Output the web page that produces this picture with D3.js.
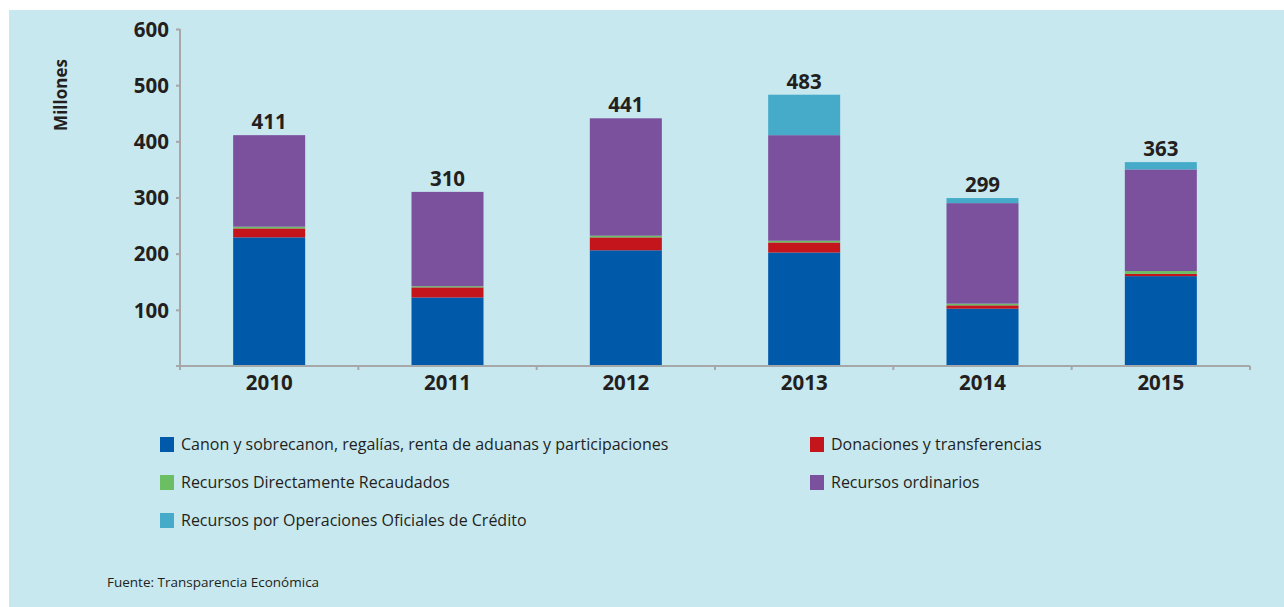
<!DOCTYPE html>
<html>
<head>
<meta charset="utf-8">
<script src="https://cdn.jsdelivr.net/npm/d3@7"></script>
<style>
  body { margin: 0; background: #ffffff; }
  svg { display: block; }
</style>
</head>
<body>
<div id="chart"></div>
<script>

// data (millones)
var years = ['2010', '2011', '2012', '2013', '2014', '2015']
var canon = [229, 122, 206, 202, 102, 160]
var donaciones = [16, 18, 23, 18, 6, 4]
var directos = [3, 2, 3, 3, 3, 5]
var ordinarios = [163, 168, 209, 188, 179, 181]
var credito = [0, 0, 0, 72, 9, 13]
var totals = [411, 310, 441, 483, 299, 363]
var yTicks = [100, 200, 300, 400, 500, 600]

var seriesNames = [
    'Canon y sobrecanon, regalías, renta de aduanas y participaciones',
    'Donaciones y transferencias',
    'Recursos Directamente Recaudados',
    'Recursos ordinarios',
    'Recursos por Operaciones Oficiales de Crédito'
]
var seriesColors = ['#0059a9', '#c4141c', '#6bbf62', '#7b519d', '#45abc9']
var seriesValues = [canon, donaciones, directos, ordinarios, credito]

var width = 1284, height = 607
// note: can't call these top/left at global scope (window.top is read-only)
var plotLeft = 180, plotRight = 1250, plotTop = 29, plotBottom = 366

var svg = d3.select('#chart')
    .append('svg')
        .attr('width', width)
        .attr('height', height)

// panel background
svg.append('rect')
    .attr('x', 9)
    .attr('y', 10)
    .attr('width', width - 9)
    .attr('height', height - 10)
    .style('fill', '#c8e8ef')

var x = d3.scaleBand()
    .domain(years)
    .range([plotLeft, plotRight])

var y = d3.scaleLinear()
    .domain([0, 600])
    .range([plotBottom, plotTop])

var barWidth = 72

// build rows for d3.stack
var rows = years.map(function(yr, i) {
    var row = {year: yr}
    seriesNames.forEach(function(name, s) { row[name] = seriesValues[s][i] })
    return row
})
var stacked = d3.stack().keys(seriesNames)(rows)

svg.selectAll('g.layer')
    .data(stacked)
    .enter()
    .append('g')
        .attr('class', 'layer')
        .style('fill', function(d, i) { return seriesColors[i] })
    .selectAll('rect')
    .data(function(d) { return d })
    .enter()
    .append('rect')
        .attr('x', function(d) { return x(d.data.year) + x.bandwidth() / 2 - barWidth / 2 })
        .attr('width', barWidth)
        .attr('y', function(d) { return y(d[1]) })
        .attr('height', function(d) { return y(d[0]) - y(d[1]) })

// axes
var axisColor = '#a5a7a9'

var yAxis = svg.append('g')
    .attr('transform', 'translate(' + plotLeft + ',0)')
    .call(d3.axisLeft(y).tickValues(yTicks).tickSize(4).tickFormat(d3.format('d')))
yAxis.select('.domain').remove()
yAxis.selectAll('.tick line').style('stroke', axisColor).style('stroke-width', 2)
yAxis.selectAll('.tick text')
    .attr('x', -11)
    .attr('dy', '0.35em')
    .style('font-family', '"Open Sans", sans-serif')
    .style('font-weight', 'bold')
    .style('font-size', '20.5px')
    .style('fill', '#231f20')

svg.append('line')
    .attr('x1', plotLeft).attr('x2', plotLeft)
    .attr('y1', plotTop).attr('y2', plotBottom + 4)
    .style('stroke', axisColor).style('stroke-width', 2)

svg.append('line')
    .attr('x1', plotLeft - 4).attr('x2', plotRight)
    .attr('y1', plotBottom).attr('y2', plotBottom)
    .style('stroke', axisColor).style('stroke-width', 2)

// category separators on x axis
svg.selectAll('line.xtick')
    .data(years)
    .enter()
    .append('line')
        .attr('class', 'xtick')
        .attr('x1', function(d) { return x(d) + x.step() })
        .attr('x2', function(d) { return x(d) + x.step() })
        .attr('y1', plotBottom)
        .attr('y2', plotBottom + 4)
        .style('stroke', axisColor).style('stroke-width', 2)

svg.selectAll('text.year')
    .data(years)
    .enter()
    .append('text')
        .attr('class', 'year')
        .attr('x', function(d) { return x(d) + x.bandwidth() / 2 })
        .attr('y', plotBottom + 24)
        .attr('text-anchor', 'middle')
        .style('font-family', '"Open Sans", sans-serif')
        .style('font-weight', 'bold')
        .style('font-size', '20.5px')
        .style('fill', '#231f20')
        .text(function(d) { return d })

// totals above bars
svg.selectAll('text.total')
    .data(totals)
    .enter()
    .append('text')
        .attr('class', 'total')
        .attr('x', function(d, i) { return x(years[i]) + x.bandwidth() / 2 })
        .attr('y', function(d) { return y(d) - 6 })
        .attr('text-anchor', 'middle')
        .style('font-family', '"Open Sans", sans-serif')
        .style('font-weight', 'bold')
        .style('font-size', '20.5px')
        .style('fill', '#231f20')
        .text(function(d) { return d })

// y axis title
svg.append('text')
    .attr('transform', 'translate(67,95) rotate(-90)')
    .attr('text-anchor', 'middle')
    .style('font-family', '"Open Sans", sans-serif')
    .style('font-weight', 'bold')
    .style('font-size', '17px')
    .style('fill', '#231f20')
    .text('Millones')

// legend
var legendPos = [[160, 444], [810, 444], [160, 482], [810, 482], [160, 520]]

var legend = svg.selectAll('g.legend')
    .data(seriesNames)
    .enter()
    .append('g')
        .attr('class', 'legend')
        .attr('transform', function(d, i) { return 'translate(' + legendPos[i][0] + ',' + legendPos[i][1] + ')' })

legend.append('rect')
    .attr('x', 0)
    .attr('y', -7)
    .attr('width', 14)
    .attr('height', 15)
    .style('fill', function(d, i) { return seriesColors[i] })

legend.append('text')
    .attr('x', 21)
    .attr('dy', '0.35em')
    .style('font-family', '"Open Sans", sans-serif')
    .style('font-size', '16px')
    .style('fill', '#231f20')
    .text(function(d) { return d })

svg.append('text')
    .attr('x', 107)
    .attr('y', 587)
    .style('font-family', '"Open Sans", sans-serif')
    .style('font-size', '13.5px')
    .style('fill', '#231f20')
    .text('Fuente: Transparencia Económica')

</script>
</body>
</html>
